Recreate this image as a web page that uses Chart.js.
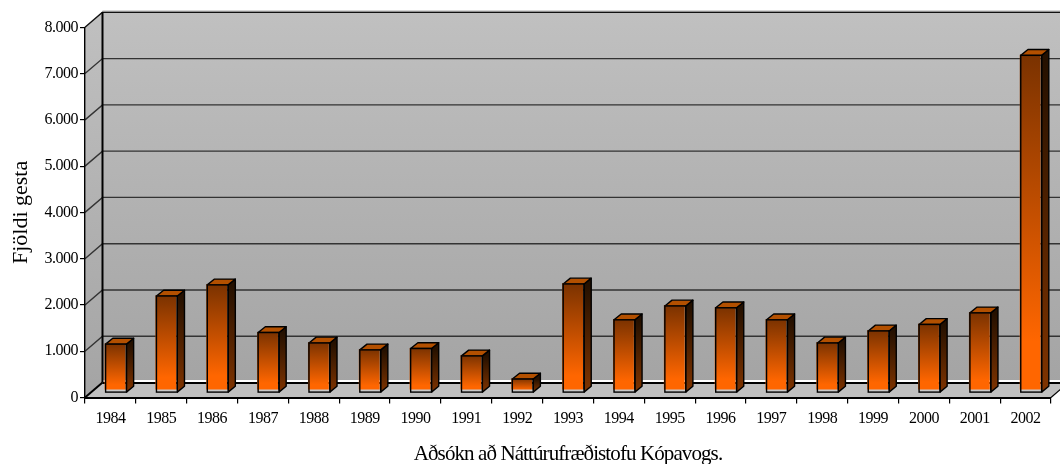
<!DOCTYPE html>
<html>
<head>
<meta charset="utf-8">
<title>Aðsókn að Náttúrufræðistofu Kópavogs</title>
<script src="https://cdn.jsdelivr.net/npm/chart.js@4"></script>
<style>
    html, body { margin: 0; padding: 0; background: #fff; }
    #wrap { width: 1060px; height: 464px; position: relative; }
</style>
</head>
<body>
<div id="wrap"><canvas id="chartAdsokn"></canvas></div>
<script>
const years = ['1984', '1985', '1986', '1987', '1988', '1989', '1990', '1991', '1992', '1993',
    '1994', '1995', '1996', '1997', '1998', '1999', '2000', '2001', '2002'];
const visitors = [1050, 2090, 2330, 1300, 1075, 925, 955, 795, 295, 2350,
    1575, 1875, 1835, 1575, 1075, 1335, 1475, 1725, 7290];
const yTickLabels = ['0', '1.000', '2.000', '3.000', '4.000', '5.000', '6.000', '7.000', '8.000'];
const xTitle = 'Aðsókn að Náttúrufræðistofu Kópavogs.';
const yTitle = 'Fjöldi gesta';

const FONT = '"Liberation Serif", "Times New Roman", serif';
// depth of the back wall and of the bars, the picture is a fake 3D column chart
const WALL_DX = 17.5, WALL_DY = -15;
const BAR_DX = 5.6, BAR_DY = -4.8;
const SIDE_DX = 7.2, SIDE_DY = -5.8;

function poly(ctx, pts, fill, stroke, lw) {
    ctx.beginPath();
    pts.forEach((p, i) => i ? ctx.lineTo(p[0], p[1]) : ctx.moveTo(p[0], p[1]));
    ctx.closePath();
    if (fill) { ctx.fillStyle = fill; ctx.fill(); }
    if (stroke) { ctx.strokeStyle = stroke; ctx.lineWidth = lw || 1; ctx.stroke(); }
}

const wallPlugin = {
    id: 'wall',
    beforeDraw(chart) {
        const { ctx, chartArea: a, scales } = chart;
        const y = scales.y;
        const backTop = a.top + WALL_DY, backBottom = a.bottom + WALL_DY;
        const backLeft = a.left + WALL_DX, backRight = a.right + WALL_DX;
        ctx.save();

        const wallFill = ctx.createLinearGradient(0, backTop, 0, backBottom);
        wallFill.addColorStop(0, '#c0c0c0');
        wallFill.addColorStop(1, '#a4a4a4');
        ctx.fillStyle = wallFill;
        ctx.fillRect(backLeft, backTop, backRight - backLeft, backBottom - backTop);

        const sideFill = ctx.createLinearGradient(0, backTop, 0, a.bottom);
        sideFill.addColorStop(0, '#c0c0c0');
        sideFill.addColorStop(1, '#a4a4a4');
        poly(ctx, [[a.left, a.top], [backLeft, backTop], [backLeft, backBottom], [a.left, a.bottom]], sideFill);

        // floor
        poly(ctx, [[a.left, a.bottom], [backLeft, backBottom], [backRight, backBottom], [a.right, a.bottom]], '#c0c0c0');

        // gridlines on the wall and on the left side
        y.ticks.forEach(t => {
            const py = y.getPixelForValue(t.value);
            if (t.value > 0) {
                ctx.strokeStyle = t.value === 8000 ? '#111' : '#333';
                ctx.lineWidth = 1.4;
                ctx.beginPath();
                ctx.moveTo(a.left, py);
                ctx.lineTo(backLeft, py + WALL_DY);
                ctx.lineTo(backRight, py + WALL_DY);
                ctx.stroke();
            }
        });

        // top edge has a grey line over the black one
        ctx.strokeStyle = '#999';
        ctx.lineWidth = 1;
        ctx.beginPath();
        ctx.moveTo(backLeft, backTop - 1.2);
        ctx.lineTo(backRight, backTop - 1.2);
        ctx.stroke();

        // back edge of the floor: white above black
        ctx.fillStyle = '#fff';
        ctx.fillRect(backLeft, backBottom - 2.5, backRight - backLeft, 2);
        ctx.fillStyle = '#000';
        ctx.fillRect(backLeft, backBottom - 0.5, backRight - backLeft, 2);

        // corner lines
        ctx.strokeStyle = '#000';
        ctx.lineWidth = 2;
        ctx.beginPath();
        ctx.moveTo(backLeft, backTop);
        ctx.lineTo(backLeft, backBottom);
        ctx.stroke();
        ctx.beginPath();
        ctx.moveTo(a.left, a.bottom);
        ctx.lineTo(backLeft, backBottom);
        ctx.stroke();
        ctx.lineWidth = 1.2;
        ctx.beginPath();
        ctx.moveTo(a.right, a.bottom);
        ctx.lineTo(backRight, backBottom);
        ctx.stroke();
        ctx.restore();

        // tick labels in the reference are set tight
        ctx.letterSpacing = '-0.5px';
    },
    beforeDatasetsDraw(chart) {
        const { ctx } = chart;
        const bars = chart.getDatasetMeta(0).data;
        ctx.save();
        ctx.translate(BAR_DX, BAR_DY);
        ctx.lineJoin = 'round';
        bars.forEach(b => {
            const l = b.x - b.width / 2, r = b.x + b.width / 2;
            const sideFill = ctx.createLinearGradient(0, b.y, 0, b.base);
            sideFill.addColorStop(0, '#241000');
            sideFill.addColorStop(1, '#803400');
            poly(ctx, [[r, b.y], [r + SIDE_DX, b.y + SIDE_DY], [r + SIDE_DX, b.base + SIDE_DY], [r, b.base]], sideFill, '#000', 1.4);
            poly(ctx, [[l, b.y], [l + SIDE_DX, b.y + SIDE_DY], [r + SIDE_DX, b.y + SIDE_DY], [r, b.y]], '#b35000', '#000', 1.4);
        });
        ctx.restore();
        // the coloured face sits a pixel off its outline
        ctx.save();
        ctx.translate(BAR_DX - 1, BAR_DY - 0.6);
    },
    afterDatasetsDraw(chart) {
        const { ctx } = chart;
        ctx.restore();
        const bars = chart.getDatasetMeta(0).data;
        ctx.save();
        ctx.translate(BAR_DX, BAR_DY);
        bars.forEach(b => {
            const l = b.x - b.width / 2;
            ctx.fillStyle = '#c8c8c8';
            ctx.fillRect(l - 1.5, b.base - 2.6, b.width + 1.5, 3);
            ctx.strokeStyle = '#000';
            ctx.lineWidth = 1.4;
            ctx.strokeRect(l, b.y, b.width, b.base - b.y);
        });
        ctx.restore();
    },
    afterDraw(chart) {
        // axis titles need their own letter spacing, the scales can't do that
        const { ctx, chartArea: a } = chart;
        ctx.save();
        ctx.fillStyle = '#000';
        ctx.textAlign = 'center';
        ctx.textBaseline = 'middle';
        ctx.letterSpacing = '-0.9px';
        ctx.font = '21px ' + FONT;
        ctx.fillText(xTitle, (a.left + a.right) / 2, 454);
        ctx.letterSpacing = '0px';
        ctx.font = '22px ' + FONT;
        ctx.translate(21, (a.top + a.bottom) / 2);
        ctx.rotate(-Math.PI / 2);
        ctx.fillText(yTitle, 0, 0);
        ctx.restore();
    }
};

function barGradient(c) {
    const { chart, parsed } = c;
    if (!chart.chartArea || !parsed) return '#ff6600';
    const y = chart.scales.y;
    const g = chart.ctx.createLinearGradient(0, y.getPixelForValue(parsed.y), 0, y.getPixelForValue(0));
    g.addColorStop(0, '#7a3200');
    g.addColorStop(0.85, '#ff6600');
    g.addColorStop(1, '#ff6600');
    return g;
}

new Chart(document.getElementById('chartAdsokn'), {
    type: 'bar',
    data: {
        labels: years,
        datasets: [{
            data: visitors,
            backgroundColor: barGradient,
            borderWidth: 0,
            categoryPercentage: 1,
            barPercentage: 0.41,
            clip: false,
        }]
    },
    options: {
        responsive: true,
        maintainAspectRatio: false,
        animation: false,
        layout: { padding: { left: 0, right: 9, top: 27.3, bottom: 0 } },
        plugins: { legend: { display: false }, tooltip: { enabled: false } },
        scales: {
            x: {
                afterFit(scale) { scale.height = 66.5; },
                grid: { drawOnChartArea: false, drawTicks: true, tickLength: 6, color: '#000', lineWidth: 1.2 },
                border: { color: '#000', width: 2 },
                ticks: { color: '#000', padding: 6, maxRotation: 0, autoSkip: false, font: { family: FONT, size: 16 } }
            },
            y: {
                min: 0,
                max: 8000,
                afterFit(scale) { scale.width = 85; },
                grid: { drawOnChartArea: false, drawTicks: true, tickLength: 5, color: '#000', lineWidth: 1.2 },
                border: { color: '#000', width: 1.4 },
                ticks: {
                    stepSize: 1000,
                    color: '#000',
                    padding: 2,
                    font: { family: FONT, size: 16 },
                    callback: (v, i) => yTickLabels[i]
                }
            }
        }
    },
    plugins: [wallPlugin]
});
</script>
</body>
</html>
